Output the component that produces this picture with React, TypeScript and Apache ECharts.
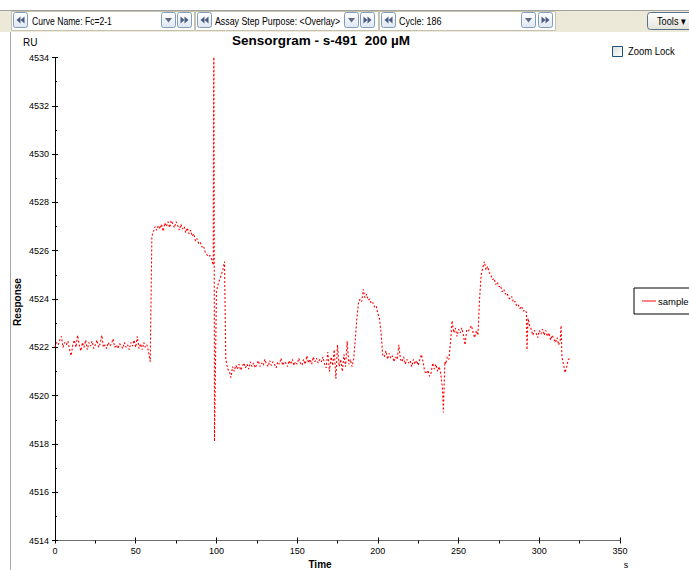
import React, { useEffect, useRef } from "react";
import * as echarts from "echarts";

// ---- data ----
const chartTitle = "Sensorgram - s-491  200 µM";
const seriesName = "sample";
const yRange = [4514, 4534];
const yStep = 2;
const xRange = [0, 350];
const xStep = 50;

// time (s), response (RU)
const sampleCurve: [number, number][] = [
  [0, 4522.0], [1, 4522.2], [2, 4522.1], [3, 4522.3], [4, 4522.45], [5, 4522.0], [6, 4522.2], [7, 4522.1],
  [8, 4522.25], [9, 4521.9], [10, 4521.65], [11, 4522.1], [12, 4522.3], [13, 4522.0], [14, 4522.5], [15, 4522.1],
  [16, 4521.85], [17, 4522.2], [18, 4522.0], [19, 4522.3], [20, 4521.9], [21, 4522.2], [22, 4522.05], [23, 4522.25],
  [24, 4521.95], [25, 4522.1], [26, 4522.3], [27, 4522.0], [28, 4522.15], [29, 4522.5], [30, 4522.0], [31, 4522.1],
  [32, 4521.95], [33, 4522.2], [34, 4522.05], [35, 4522.15], [36, 4522.35], [37, 4522.0], [38, 4522.1], [39, 4521.95],
  [40, 4522.15], [41, 4522.05], [42, 4521.95], [43, 4522.2], [44, 4522.0], [45, 4522.1], [46, 4521.9], [47, 4522.2],
  [48, 4522.05], [49, 4522.3], [50, 4522.0], [51, 4522.45], [52, 4521.95], [53, 4522.15], [54, 4521.9], [55, 4522.2],
  [56, 4522.0], [57, 4522.1], [58, 4521.8], [59, 4521.4], [60, 4526.6], [61, 4526.8], [62, 4527.0], [63, 4526.85],
  [64, 4527.05], [65, 4526.9], [66, 4527.1], [67, 4526.8], [68, 4527.15], [69, 4527.0], [70, 4527.2], [71, 4526.95],
  [72, 4527.25], [73, 4527.1], [74, 4526.95], [75, 4527.2], [76, 4527.05], [77, 4526.85], [78, 4527.1], [79, 4526.9],
  [80, 4527.0], [81, 4526.75], [82, 4526.95], [83, 4526.7], [84, 4526.85], [85, 4526.6], [86, 4526.7], [87, 4526.4],
  [88, 4526.5], [89, 4526.3], [90, 4526.35], [91, 4526.15], [92, 4526.2], [93, 4525.95], [94, 4525.85], [95, 4525.75],
  [96, 4525.8], [97, 4525.65], [98, 4525.4], [98.4, 4536.0], [98.8, 4518.1], [100, 4524.3], [101, 4524.6], [102, 4524.8],
  [103, 4525.0], [104, 4525.2], [105, 4525.55], [105.8, 4521.5], [107, 4521.1], [108, 4521.0], [109, 4520.75], [110, 4521.2],
  [111, 4521.0], [112, 4521.25], [113, 4521.1], [114, 4521.3], [115, 4521.05], [116, 4521.2], [117, 4521.35], [118, 4521.15],
  [119, 4521.3], [120, 4521.1], [121, 4521.4], [122, 4521.2], [123, 4521.35], [124, 4521.15], [125, 4521.3], [126, 4521.45],
  [127, 4521.2], [128, 4521.35], [129, 4521.25], [130, 4521.5], [131, 4521.3], [132, 4521.2], [133, 4521.45], [134, 4521.25],
  [135, 4521.4], [136, 4521.3], [137, 4521.15], [138, 4521.4], [139, 4521.3], [140, 4521.55], [141, 4521.25], [142, 4521.4],
  [143, 4521.35], [144, 4521.2], [145, 4521.45], [146, 4521.3], [147, 4521.5], [148, 4521.25], [149, 4521.4], [150, 4521.3],
  [151, 4521.55], [152, 4521.35], [153, 4521.25], [154, 4521.5], [155, 4521.3], [156, 4521.65], [157, 4521.35], [158, 4521.5],
  [159, 4521.3], [160, 4521.6], [161, 4521.4], [162, 4521.55], [163, 4521.35], [164, 4521.5], [165, 4521.4], [166, 4521.6],
  [167, 4521.3], [168, 4521.15], [169, 4521.8], [170, 4521.0], [171, 4521.6], [172, 4521.25], [173, 4521.9], [174, 4520.7],
  [175, 4522.1], [176, 4521.2], [177, 4521.5], [178, 4521.0], [179, 4521.7], [180, 4521.2], [181, 4522.25], [182, 4521.3],
  [183, 4521.5], [184, 4521.2], [185, 4521.5], [186, 4522.3], [187, 4523.2], [188, 4523.85], [189, 4524.0], [190, 4523.9],
  [191, 4524.4], [192, 4524.05], [193, 4524.2], [194, 4523.95], [195, 4524.0], [196, 4523.8], [197, 4523.85], [198, 4523.65],
  [199, 4523.7], [200, 4523.4], [201, 4523.2], [202, 4522.6], [203, 4521.7], [204, 4521.6], [205, 4521.85], [206, 4521.5],
  [207, 4521.75], [208, 4521.55], [209, 4521.65], [210, 4521.4], [211, 4521.6], [212, 4521.5], [213, 4522.1], [214, 4521.5],
  [215, 4521.4], [216, 4521.6], [217, 4521.3], [218, 4521.5], [219, 4521.35], [220, 4521.45], [221, 4521.2], [222, 4521.5],
  [223, 4521.3], [224, 4521.45], [225, 4521.25], [226, 4521.5], [227, 4521.7], [228, 4521.4], [229, 4521.0], [230, 4520.9],
  [231, 4521.05], [232, 4520.8], [233, 4520.95], [234, 4521.35], [235, 4521.1], [236, 4521.3], [237, 4521.0], [238, 4521.2],
  [239, 4520.9], [240, 4520.3], [240.6, 4519.3], [241.5, 4521.4], [242, 4521.3], [243, 4521.6], [244, 4521.5], [245, 4522.2],
  [246, 4523.1], [247, 4522.6], [248, 4522.8], [249, 4522.45], [250, 4522.75], [251, 4522.6], [252, 4522.8], [253, 4522.5],
  [254, 4522.1], [255, 4522.7], [256, 4522.65], [257, 4522.8], [258, 4522.9], [259, 4522.6], [260, 4522.4], [261, 4522.7],
  [262, 4522.5], [263, 4524.0], [264, 4525.0], [265, 4525.3], [266, 4525.55], [267, 4525.2], [268, 4525.35], [269, 4525.1],
  [270, 4525.0], [271, 4524.8], [272, 4524.85], [273, 4524.6], [274, 4524.7], [275, 4524.5], [276, 4524.55], [277, 4524.3],
  [278, 4524.4], [279, 4524.2], [280, 4524.25], [281, 4524.05], [282, 4524.0], [283, 4524.1], [284, 4523.85], [285, 4523.9],
  [286, 4523.7], [287, 4523.75], [288, 4523.6], [289, 4523.7], [290, 4523.5], [291, 4523.55], [292, 4523.45], [292.4, 4521.9],
  [293, 4523.2], [294, 4522.9], [295, 4522.75], [296, 4522.5], [297, 4522.7], [298, 4522.6], [299, 4522.4], [300, 4522.7],
  [301, 4522.55], [302, 4522.75], [303, 4522.5], [304, 4522.7], [305, 4522.45], [306, 4522.6], [307, 4522.3], [308, 4522.5],
  [309, 4522.35], [310, 4522.2], [311, 4522.4], [312, 4522.1], [313, 4522.3], [313.5, 4522.9], [314, 4521.6], [315, 4521.3],
  [316, 4520.95], [317, 4521.2], [318, 4521.5], [319, 4521.55],
];

const FONT = "'Liberation Sans', Arial, sans-serif";

function btn(x: number, y: number, kind: "first" | "down" | "last") {
  const glyphFill = "#4b5d80";
  let glyph: any[] = [];
  if (kind === "first") {
    glyph = [
      { type: "polygon", shape: { points: [[7.5, 4.5], [3.5, 8], [7.5, 11.5]] }, style: { fill: glyphFill } },
      { type: "polygon", shape: { points: [[11.5, 4.5], [7.5, 8], [11.5, 11.5]] }, style: { fill: glyphFill } },
    ];
  } else if (kind === "last") {
    glyph = [
      { type: "polygon", shape: { points: [[3.5, 4.5], [7.5, 8], [3.5, 11.5]] }, style: { fill: glyphFill } },
      { type: "polygon", shape: { points: [[7.5, 4.5], [11.5, 8], [7.5, 11.5]] }, style: { fill: glyphFill } },
    ];
  } else {
    glyph = [
      { type: "polygon", shape: { points: [[4, 6], [11, 6], [7.5, 10.5]] }, style: { fill: "#5f6b80" } },
    ];
  }
  return {
    type: "group",
    x,
    y,
    children: [
      {
        type: "rect",
        shape: { x: 0.5, y: 0.5, width: 14, height: 15, r: 2 },
        style: {
          fill: new echarts.graphic.LinearGradient(0, 0, 0, 1, [
            { offset: 0, color: "#ffffff" },
            { offset: 1, color: "#dfe6f2" },
          ]),
          stroke: "#7f9db9",
          lineWidth: 1,
        },
      },
      ...glyph,
    ],
  };
}

function label(x: number, y: number, text: string, sx = 0.84) {
  return {
    type: "text",
    x,
    y,
    scaleX: sx,
    style: {
      text,
      x: 0,
      y: 0,
      font: `11px ${FONT}`,
      fill: "#000",
      textAlign: "left",
      textVerticalAlign: "middle",
    },
  };
}

function segBox(x: number, w: number) {
  return {
    type: "rect",
    shape: { x: x + 0.5, y: 11.5, width: w, height: 19 },
    style: { fill: "#ffffff", stroke: "#c5c2b2", lineWidth: 1 },
  };
}

export default function App() {
  const ref = useRef<HTMLDivElement>(null);

  useEffect(() => {
    if (!ref.current) return;
    const chart = echarts.init(ref.current, null, { renderer: "svg" });

    const graphic: any[] = [
      // toolbar background
      { type: "rect", shape: { x: 0, y: 10, width: 689, height: 22 }, style: { fill: "#ece9d8" } },
      { type: "line", shape: { x1: 0, y1: 10.5, x2: 689, y2: 10.5 }, style: { stroke: "#a0a0a0", lineWidth: 1 } },
      segBox(11, 183),
      segBox(195, 183),
      segBox(379, 176),
      btn(13, 12, "first"),
      label(32, 21.5, "Curve Name: Fc=2-1", 0.78),
      btn(161, 12, "down"),
      btn(177, 12, "last"),
      btn(197, 12, "first"),
      label(215, 21.5, "Assay Step Purpose: <Overlay>", 0.8),
      btn(344, 12, "down"),
      btn(360, 12, "last"),
      btn(381, 12, "first"),
      label(399, 21.5, "Cycle: 186", 0.82),
      btn(521, 12, "down"),
      btn(538, 12, "last"),
      // Tools button
      {
        type: "rect",
        shape: { x: 647.5, y: 12.5, width: 60, height: 17, r: 3 },
        style: {
          fill: new echarts.graphic.LinearGradient(0, 0, 0, 1, [
            { offset: 0, color: "#ffffff" },
            { offset: 1, color: "#e3e3db" },
          ]),
          stroke: "#5a6f8e",
          lineWidth: 1,
        },
      },
      label(657, 21.5, "Tools ▾", 0.84),
      // left border of the chart pane
      { type: "line", shape: { x1: 10.5, y1: 32, x2: 10.5, y2: 570 }, style: { stroke: "#a8a8a8", lineWidth: 1 } },
      // Zoom Lock checkbox
      {
        type: "rect",
        shape: { x: 612.5, y: 46.5, width: 10, height: 10 },
        style: {
          fill: new echarts.graphic.LinearGradient(0, 0, 1, 1, [
            { offset: 0, color: "#dcdcd6" },
            { offset: 1, color: "#ffffff" },
          ]),
          stroke: "#1c5180",
          lineWidth: 1,
        },
      },
      label(628, 51.5, "Zoom Lock", 0.86),
      // axis captions
      {
        type: "text",
        x: 23,
        y: 42.5,
        style: { text: "RU", x: 0, y: 0, font: `10px ${FONT}`, fill: "#000", textAlign: "left", textVerticalAlign: "middle" },
      },
      {
        type: "text",
        x: 17,
        y: 302,
        rotation: Math.PI / 2,
        style: {
          text: "Response",
          x: 0,
          y: 0,
          font: `bold 10px ${FONT}`,
          fill: "#000",
          textAlign: "center",
          textVerticalAlign: "middle",
        },
      },
      {
        type: "text",
        x: 320,
        y: 564.5,
        style: { text: "Time", x: 0, y: 0, font: `bold 10px ${FONT}`, fill: "#000", textAlign: "center", textVerticalAlign: "middle" },
      },
      {
        type: "text",
        x: 626,
        y: 564.5,
        style: { text: "s", x: 0, y: 0, font: `9px ${FONT}`, fill: "#000", textAlign: "center", textVerticalAlign: "middle" },
      },
    ];

    const tickLabel = { fontSize: 9, fontFamily: FONT, color: "#000" };

    chart.setOption({
      animation: false,
      backgroundColor: "#ffffff",
      title: {
        text: chartTitle,
        left: 321,
        top: 33,
        textAlign: "center",
        textStyle: { fontFamily: FONT, fontSize: 13.5, fontWeight: "bold", color: "#000" },
        padding: 0,
      },
      legend: {
        left: 634,
        top: 288,
        orient: "vertical",
        padding: [8, 12, 8, 8],
        borderColor: "#000",
        borderWidth: 1,
        borderRadius: 0,
        icon: "rect",
        itemWidth: 14,
        itemHeight: 1.5,
        itemGap: 0,
        textStyle: { fontFamily: FONT, fontSize: 9.5, color: "#000", padding: [0, 0, 0, -3] },
        data: [{ name: seriesName, itemStyle: { color: "#ff5a5a" } }],
      },
      grid: { left: 55, right: 69, top: 57.5, bottom: 29.5, containLabel: false },
      xAxis: [
        {
          type: "value",
          min: xRange[0],
          max: xRange[1],
          interval: xStep,
          axisLine: { show: true, lineStyle: { color: "#6e6e6e", width: 1.2 } },
          axisTick: { show: true, length: 3, lineStyle: { color: "#000" } },
          minorTick: { show: true, splitNumber: 2, length: 3, lineStyle: { color: "#000" } },
          axisLabel: { ...tickLabel, margin: 6, formatter: (v: number) => String(v) },
          splitLine: { show: false },
        },
        {
          type: "value",
          position: "bottom",
          min: xRange[0],
          max: xRange[1],
          interval: xStep,
          axisLine: { show: false },
          axisTick: { show: true, inside: true, length: 3, lineStyle: { color: "#000" } },
          minorTick: { show: false },
          axisLabel: { show: false },
          splitLine: { show: false },
        },
      ],
      yAxis: [
        {
          type: "value",
          position: "left",
          min: yRange[0],
          max: yRange[1],
          interval: yStep,
          axisLine: { show: true, lineStyle: { color: "#000", width: 1 } },
          axisTick: { show: true, length: 3, lineStyle: { color: "#000" } },
          axisLabel: { ...tickLabel, margin: 6, formatter: (v: number) => String(v) },
          splitLine: { show: false },
        },
        {
          type: "value",
          position: "left",
          min: yRange[0],
          max: yRange[1],
          interval: yStep,
          axisLine: { show: false },
          axisTick: { show: true, inside: true, length: 3, lineStyle: { color: "#000" } },
          minorTick: { show: true, splitNumber: 2, length: 2, lineStyle: { color: "#000" } },
          axisLabel: { show: false },
          splitLine: { show: false },
        },
      ],
      series: [
        {
          name: seriesName,
          type: "line",
          xAxisIndex: 0,
          yAxisIndex: 0,
          data: sampleCurve,
          showSymbol: false,
          symbol: "none",
          clip: true,
          lineStyle: { color: "#ff0000", width: 1.1, type: [2, 2] },
          itemStyle: { color: "#ff0000" },
        },
      ],
      graphic,
    });

    return () => chart.dispose();
  }, []);

  return (
    <div
      ref={ref}
      style={{ position: "fixed", left: 0, top: 0, width: 689, height: 570, background: "#fff" }}
    />
  );
}
